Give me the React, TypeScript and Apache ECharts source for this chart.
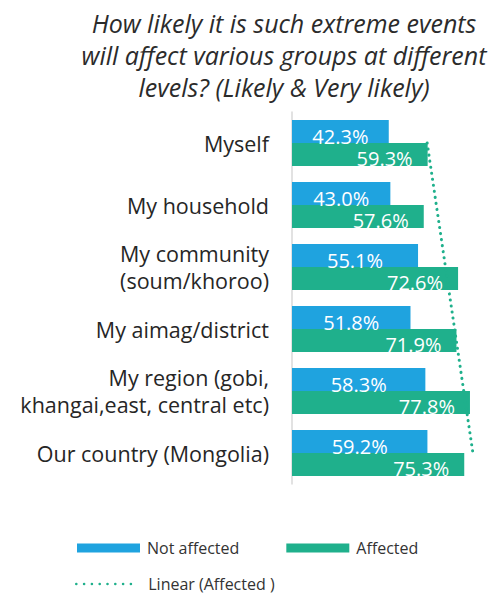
import React, { useEffect, useRef } from "react";
import * as echarts from "echarts";

const categories = [
  "Myself",
  "My household",
  "My community\n(soum/khoroo)",
  "My aimag/district",
  "My region (gobi,\nkhangai,east, central etc)",
  "Our country (Mongolia)",
];
const notAffected = [42.3, 43.0, 55.1, 51.8, 58.3, 59.2];
const affected = [59.3, 57.6, 72.6, 71.9, 77.8, 75.3];
const titleLines = [
  "How likely it is such extreme events",
  "will affect various groups at different",
  "levels? (Likely & Very likely)",
];

const BLUE = "#1fa3df";
const GREEN = "#1fb08c";
const FONT = "'Open Sans', 'Noto Sans', sans-serif";

function linearFit(vals: number[]) {
  const n = vals.length;
  const xs = vals.map((_, i) => i + 1);
  const mx = xs.reduce((a, b) => a + b, 0) / n;
  const my = vals.reduce((a, b) => a + b, 0) / n;
  let sxy = 0;
  let sxx = 0;
  xs.forEach((x, i) => {
    sxy += (x - mx) * (vals[i] - my);
    sxx += (x - mx) * (x - mx);
  });
  const slope = sxy / sxx;
  return xs.map((x) => my + slope * (x - mx));
}

export default function App() {
  const ref = useRef<HTMLDivElement>(null);
  useEffect(() => {
    if (!ref.current) return;
    const chart = echarts.init(ref.current, null, { renderer: "svg" });
    const trend = linearFit(affected);
    const pct = (p: any) => Number(p.value).toFixed(1) + "%";
    chart.setOption({
      animation: false,
      backgroundColor: "#ffffff",
      title: {
        text: titleLines.join("\n"),
        left: 284,
        top: 7,
        padding: 0,
        textAlign: "center",
        textStyle: {
          fontFamily: FONT,
          fontStyle: "italic",
          fontWeight: "normal",
          fontSize: 25,
          lineHeight: 32,
          color: "#2b2b2b",
        },
      },
      legend: [
        {
          data: ["Not affected", "Affected"],
          left: 77,
          top: 540,
          padding: 0,
          itemWidth: 63,
          itemHeight: 9,
          itemGap: 47,
          icon: "rect",
          textStyle: { fontFamily: FONT, fontSize: 16, color: "#333", padding: [0, 0, 0, 2] },
        },
        {
          data: [{ name: "Linear (Affected )", itemStyle: { opacity: 0 } }],
          left: 75,
          top: 576,
          padding: 0,
          itemWidth: 60,
          itemHeight: 12,
          lineStyle: { color: GREEN, width: 2.5, type: [0.1, 7.7], cap: "round" },
          textStyle: { fontFamily: FONT, fontSize: 16, color: "#333", padding: [0, 0, 0, 7] },
        },
      ],
      grid: { left: 292, right: 17, top: 112, bottom: 112, containLabel: false },
      xAxis: {
        type: "value",
        min: 0,
        max: 80,
        show: false,
        splitLine: { show: false },
      },
      yAxis: {
        type: "category",
        inverse: true,
        data: categories,
        axisTick: { show: false },
        axisLine: { show: true, lineStyle: { color: "#d9d9d9", width: 1.5 } },
        axisLabel: {
          margin: 23,
          fontFamily: FONT,
          fontSize: 21.5,
          lineHeight: 27.5,
          color: "#262626",
          align: "right",
        },
      },
      series: [
        {
          name: "Not affected",
          type: "bar",
          data: notAffected,
          barGap: "0%",
          barCategoryGap: "26%",
          itemStyle: { color: BLUE },
          label: {
            show: true,
            position: "inside",
            offset: [0, 5],
            fontFamily: FONT,
            fontSize: 20,
            color: "#ffffff",
            formatter: pct,
          },
        },
        {
          name: "Affected",
          type: "bar",
          data: affected,
          barGap: "0%",
          barCategoryGap: "26%",
          itemStyle: { color: GREEN },
          label: {
            show: true,
            position: "insideRight",
            distance: 5,
            offset: [-10, 4],
            fontFamily: FONT,
            fontSize: 20,
            color: "#ffffff",
            formatter: pct,
          },
        },
        {
          name: "Linear (Affected )",
          type: "line",
          data: trend.map((v, i) => [v, categories[i]]),
          symbol: "none",
          showSymbol: false,
          z: 5,
          lineStyle: { color: GREEN, width: 3, type: [0.1, 6], cap: "round" },
          itemStyle: { color: GREEN },
        },
      ],
    });
    return () => chart.dispose();
  }, []);
  return (
    <div
      ref={ref}
      style={{ position: "absolute", left: 0, top: 0, width: 492, height: 596 }}
    />
  );
}
